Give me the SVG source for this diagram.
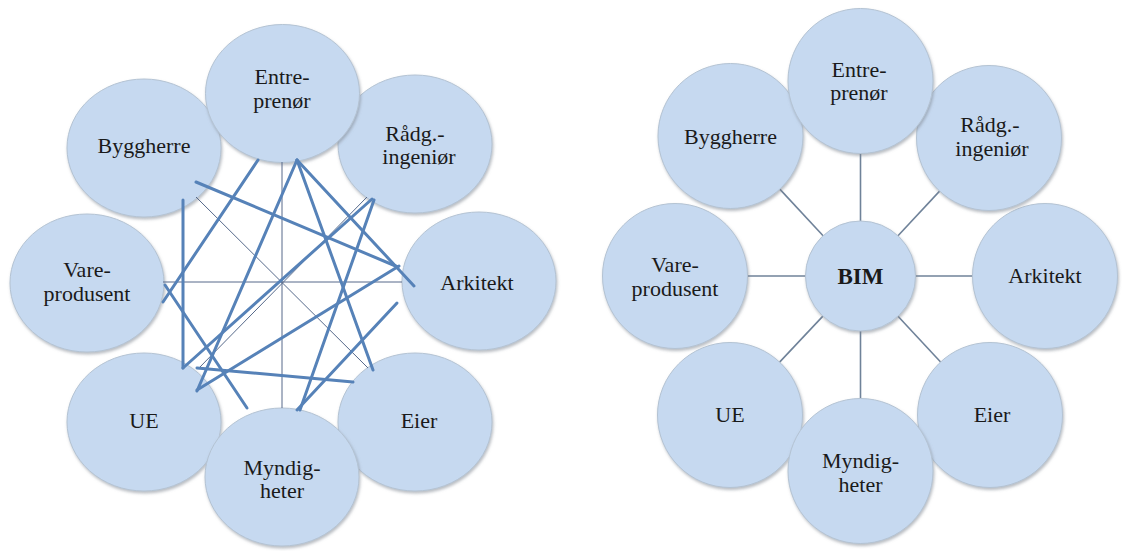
<svg xmlns="http://www.w3.org/2000/svg" width="1143" height="551" viewBox="0 0 1143 551">
<defs>
<filter id="sh" x="-20%" y="-20%" width="140%" height="140%">
<feDropShadow dx="1" dy="2" stdDeviation="1.8" flood-color="#7d8590" flood-opacity="0.55"/>
</filter>
<style>
.n{fill:#c6d9f0;stroke:#b4c3d3;stroke-width:1;filter:url(#sh)}
.t{font-family:'Liberation Serif','Times New Roman',Times,serif;fill:#1a1a1a;text-anchor:middle;font-size:22px}
.b{font-size:23px;font-weight:bold}
.thick{stroke:#5682b8;stroke-width:3;stroke-linecap:round;fill:none}
.thin{stroke:#56698a;stroke-width:1;fill:none}
.spoke{stroke:#6f8299;stroke-width:1.6;fill:none}
</style>
</defs>
<rect width="1143" height="551" fill="#ffffff"/>

<!-- LEFT DIAGRAM -->
<g id="l-vare"><ellipse class="n" cx="87" cy="283" rx="77" ry="69"/><text class="t" font-family="Liberation Serif, serif" x="87" y="277">Vare-</text><text class="t" font-family="Liberation Serif, serif" x="87" y="301">produsent</text></g>
<g id="l-arkitekt"><ellipse class="n" cx="479" cy="281" rx="77" ry="69"/><text class="t" font-family="Liberation Serif, serif" x="477" y="290">Arkitekt</text></g>
<g id="l-byggherre"><ellipse class="n" cx="144" cy="148" rx="77" ry="69"/><text class="t" font-family="Liberation Serif, serif" x="144" y="153">Byggherre</text></g>
<g id="l-radg"><ellipse class="n" cx="415" cy="144" rx="77" ry="69"/><text class="t" font-family="Liberation Serif, serif" x="415" y="141">Rådg.-</text><text class="t" font-family="Liberation Serif, serif" x="419" y="164">ingeniør</text></g>
<g id="l-ue"><ellipse class="n" cx="144" cy="422" rx="77" ry="69"/><text class="t" font-family="Liberation Serif, serif" x="144" y="428">UE</text></g>
<g id="l-eier"><ellipse class="n" cx="415" cy="422" rx="77" ry="69"/><text class="t" font-family="Liberation Serif, serif" x="419" y="428">Eier</text></g>
<g id="l-entreprenor"><ellipse class="n" cx="282.5" cy="93.5" rx="77" ry="69"/><text class="t" font-family="Liberation Serif, serif" x="282" y="84">Entre-</text><text class="t" font-family="Liberation Serif, serif" x="282" y="108">prenør</text></g>
<g id="l-myndigheter"><ellipse class="n" cx="282" cy="477" rx="77" ry="69"/><text class="t" font-family="Liberation Serif, serif" x="282" y="475">Myndig-</text><text class="t" font-family="Liberation Serif, serif" x="282" y="498">heter</text></g>

<g id="l-connectors">
<line class="thin" x1="282" y1="162" x2="282" y2="408"/>
<line class="thin" x1="163" y1="282" x2="402" y2="282"/>
<line class="thin" x1="196" y1="197" x2="368" y2="368"/>
<line class="thin" x1="367" y1="197" x2="198" y2="369"/>
<line class="thick" x1="196" y1="182" x2="398" y2="267"/>
<line class="thick" x1="183" y1="200" x2="183" y2="368"/>
<line class="thick" x1="258" y1="160" x2="163" y2="302"/>
<line class="thick" x1="297" y1="160" x2="197" y2="391"/>
<line class="thick" x1="297" y1="160" x2="414" y2="286"/>
<line class="thick" x1="297" y1="160" x2="373" y2="370"/>
<line class="thick" x1="372" y1="199" x2="183" y2="368"/>
<line class="thick" x1="374" y1="200" x2="300" y2="410"/>
<line class="thick" x1="399" y1="266" x2="197" y2="390"/>
<line class="thick" x1="397" y1="303" x2="297" y2="410"/>
<line class="thick" x1="165" y1="285" x2="247" y2="408"/>
<line class="thick" x1="197" y1="368" x2="353" y2="382"/>
</g>

<!-- RIGHT DIAGRAM -->
<g id="r-connectors">
<line class="spoke" x1="860.5" y1="153.5" x2="860.5" y2="221"/>
<line class="spoke" x1="860.5" y1="331" x2="860.5" y2="398.5"/>
<line class="spoke" x1="747.5" y1="276" x2="805.5" y2="276"/>
<line class="spoke" x1="915.5" y1="276" x2="972.5" y2="276"/>
<line class="spoke" x1="779.8" y1="189.1" x2="823.1" y2="235.7"/>
<line class="spoke" x1="939.6" y1="191.1" x2="898" y2="235.7"/>
<line class="spoke" x1="779.6" y1="362.1" x2="822.9" y2="316.1"/>
<line class="spoke" x1="940.6" y1="362" x2="898" y2="316.2"/>
</g>
<g id="r-vare"><circle class="n" cx="675" cy="276" r="72.5"/><text class="t" font-family="Liberation Serif, serif" x="675" y="272">Vare-</text><text class="t" font-family="Liberation Serif, serif" x="675" y="296">produsent</text></g>
<g id="r-arkitekt"><circle class="n" cx="1045" cy="276" r="72.5"/><text class="t" font-family="Liberation Serif, serif" x="1045" y="283">Arkitekt</text></g>
<g id="r-byggherre"><circle class="n" cx="730.5" cy="136" r="72.5"/><text class="t" font-family="Liberation Serif, serif" x="730.5" y="144">Byggherre</text></g>
<g id="r-radg"><circle class="n" cx="989" cy="138" r="72.5"/><text class="t" font-family="Liberation Serif, serif" x="990" y="132">Rådg.-</text><text class="t" font-family="Liberation Serif, serif" x="992" y="156">ingeniør</text></g>
<g id="r-ue"><circle class="n" cx="730" cy="415" r="72.5"/><text class="t" font-family="Liberation Serif, serif" x="730" y="422">UE</text></g>
<g id="r-eier"><circle class="n" cx="990" cy="415" r="72.5"/><text class="t" font-family="Liberation Serif, serif" x="992" y="422">Eier</text></g>
<g id="r-entreprenor"><circle class="n" cx="860.5" cy="81" r="72.5"/><text class="t" font-family="Liberation Serif, serif" x="859" y="77">Entre-</text><text class="t" font-family="Liberation Serif, serif" x="859" y="100">prenør</text></g>
<g id="r-myndigheter"><circle class="n" cx="860.5" cy="471" r="72.5"/><text class="t" font-family="Liberation Serif, serif" x="860.5" y="468">Myndig-</text><text class="t" font-family="Liberation Serif, serif" x="860.5" y="492">heter</text></g>
<g id="r-bim"><circle class="n" cx="860.5" cy="276" r="55"/><text class="t b" font-family="Liberation Serif, serif" x="860.5" y="284">BIM</text></g>
</svg>
